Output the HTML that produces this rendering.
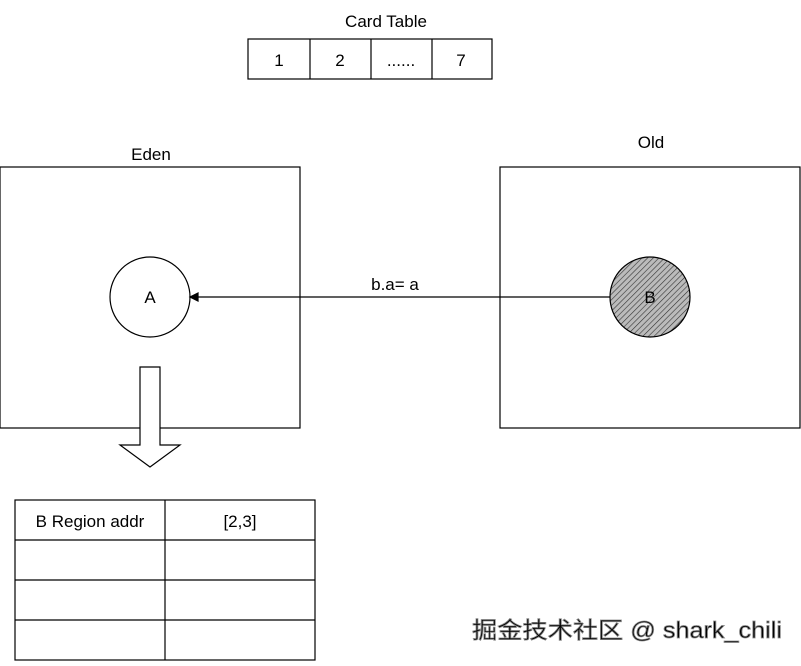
<!DOCTYPE html>
<html><head><style>
body{margin:0;background:#fff;width:801px;height:661px;overflow:hidden}
text{font-family:"Liberation Sans","Noto Sans CJK SC",sans-serif;fill:#000}
</style></head><body>
<svg width="801" height="661" viewBox="0 0 801 661" xmlns="http://www.w3.org/2000/svg">
<defs><pattern id="h" width="4" height="4" patternUnits="userSpaceOnUse" patternTransform="rotate(45)"><rect width="4" height="4" fill="#bbb"/><line x1="0" y1="0" x2="0" y2="4" stroke="#333" stroke-width="1.2"/></pattern></defs>
<g fill="none" stroke="#000" stroke-width="1.2">
<text x="386" y="27" font-size="17" text-anchor="middle" stroke="none">Card Table</text>
<rect x="248" y="39" width="244" height="40"/>
<line x1="310" y1="39" x2="310" y2="79"/><line x1="371" y1="39" x2="371" y2="79"/><line x1="432" y1="39" x2="432" y2="79"/>
<rect x="0" y="167" width="300" height="261"/>
<rect x="500" y="167" width="300" height="261"/>
<circle cx="150" cy="297" r="40"/>
<circle cx="650" cy="297" r="40" fill="url(#h)"/>
<line x1="610" y1="297" x2="196" y2="297"/>
<path d="M198 293 L190 297 L198 301 Z" fill="#000"/>
<path d="M140 367 H160 V445 H180 L150 467 L120 445 H140 Z" fill="#fff"/>
<rect x="15" y="500" width="300" height="160"/>
<line x1="15" y1="540" x2="315" y2="540"/><line x1="15" y1="580" x2="315" y2="580"/><line x1="15" y1="620" x2="315" y2="620"/>
<line x1="165" y1="500" x2="165" y2="660"/>
</g>
<g font-size="17" text-anchor="middle">
<text x="279" y="66">1</text><text x="340" y="66">2</text><text x="401" y="66">......</text><text x="461" y="66">7</text>
<text x="151" y="160">Eden</text><text x="651" y="148">Old</text>
<text x="150" y="303">A</text><text x="650" y="303">B</text>
<text x="395" y="290">b.a= a</text>
<text x="90" y="527">B Region addr</text><text x="240" y="527">[2,3]</text>
</g>
<text x="472" y="638" font-size="23" textLength="310" lengthAdjust="spacingAndGlyphs" fill="#fff" stroke="#888" stroke-width="0.8">掘金技术社区 @ shark_chili</text>
</svg>
</body></html>
